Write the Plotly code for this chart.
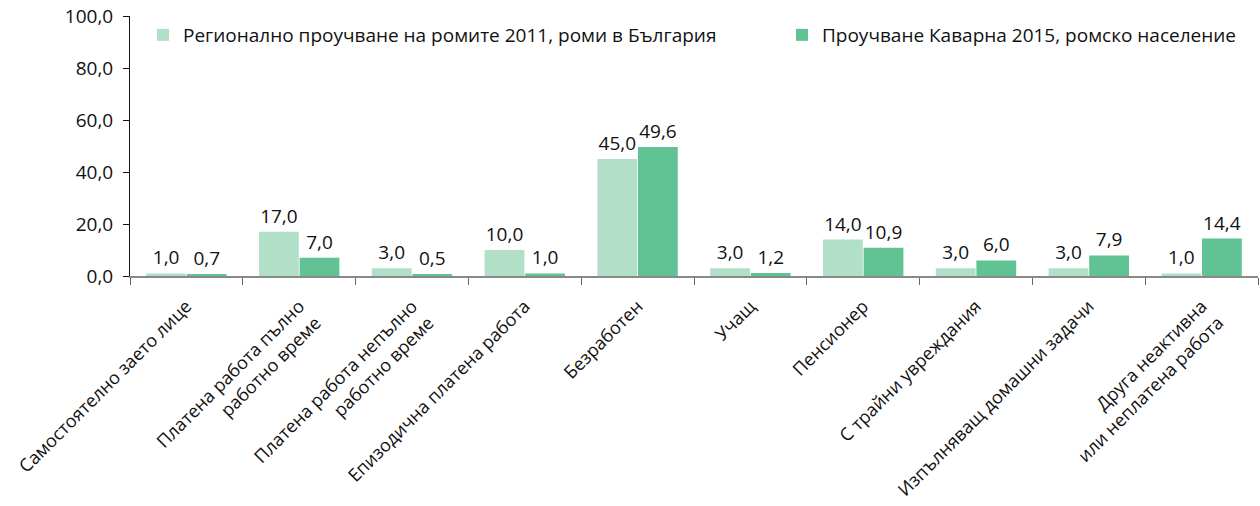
import plotly.graph_objects as go

categories = [
    "Самостоятелно заето лице",
    "Платена работа пълно<br>работно време",
    "Платена работа непълно<br>работно време",
    "Епизодична платена работа",
    "Безработен",
    "Учащ",
    "Пенсионер",
    "С трайни увреждания",
    "Изпълняващ домашни задачи",
    "Друга неактивна<br>или неплатена работа",
]
series_names = [
    "Регионално проучване на ромите 2011, роми в България",
    "Проучване Каварна 2015, ромско население",
]
regional_2011 = [1.0, 17.0, 3.0, 10.0, 45.0, 3.0, 14.0, 3.0, 3.0, 1.0]
kavarna_2015 = [0.7, 7.0, 0.5, 1.0, 49.6, 1.2, 10.9, 6.0, 7.9, 14.4]
y_ticks = [0, 20, 40, 60, 80, 100]

FONT = "Open Sans"
FS = 19
colors = ["#b2dfc7", "#61c393"]

fig = go.Figure()
for i, (name, vals) in enumerate(zip(series_names, [regional_2011, kavarna_2015])):
    fig.add_trace(go.Bar(
        x=categories, y=vals, name=name,
        marker=dict(color=colors[i], line=dict(width=0)),
        texttemplate="%{y:.1f}", textposition="outside",
        textfont=dict(family=FONT, size=FS, color="#111"),
        cliponaxis=False, showlegend=True,
        legend="legend" if i == 0 else "legend2",
    ))

legend_style = dict(orientation="h", y=1.0, yanchor="top", xanchor="left",
                    font=dict(family=FONT, size=FS, color="#111"),
                    bgcolor="rgba(0,0,0,0)")

fig.update_layout(
    width=1260, height=506,
    margin=dict(l=130, r=2, t=16, b=230, autoexpand=False),
    paper_bgcolor="white", plot_bgcolor="white",
    separators=", ",
    showlegend=True,
    barmode="group", bargap=0.28, bargroupgap=0.02,
    font=dict(family=FONT, size=FS, color="#111"),
    legend=dict(x=0.0115, **legend_style),
    legend2=dict(x=0.578, **legend_style),
)
fig.update_xaxes(
    automargin=False,
    showline=True, linecolor="#888", linewidth=1.5,
    ticks="outside", ticklen=7, tickcolor="#666", tickson="boundaries",
    tickangle=-45, ticklabelstandoff=11,
    tickfont=dict(family=FONT, size=18, color="#111"),
    showgrid=False,
)
fig.update_yaxes(
    automargin=False,
    range=[0, 100], tickvals=y_ticks, tickformat=".1f",
    showline=True, linecolor="#111", linewidth=1,
    ticks="outside", ticklen=6, tickcolor="#111", ticklabelstandoff=6,
    tickfont=dict(family=FONT, size=FS, color="#111"),
    showgrid=False, zeroline=False,
)

fig.write_html("out.html")
